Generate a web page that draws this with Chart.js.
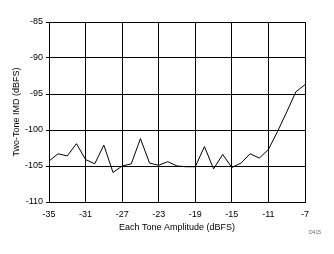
<!DOCTYPE html>
<html>
<head>
<meta charset="utf-8">
<script src="https://cdn.jsdelivr.net/npm/chart.js@4/dist/chart.umd.min.js"></script>
<style>
  html, body { margin: 0; padding: 0; background: #fff; }
  #wrap { width: 334px; height: 254px; }
</style>
</head>
<body>
<div id="wrap"><canvas id="imdChart" width="334" height="254"></canvas></div>
<script>
// tone amplitude (dBFS) and two-tone IMD (dBFS)
let amplitude = [-35, -34, -33, -32, -31, -30, -29, -28, -27, -26, -25, -24, -23, -22, -21,
  -20, -19, -18, -17, -16, -15, -14, -13, -12, -11, -10, -9, -8, -7];
let imd = [-104.3, -103.3, -103.6, -101.9, -104.1, -104.7, -102.1, -105.9, -105.0, -104.7,
  -101.2, -104.6, -104.9, -104.4, -105.0, -105.1, -105.1, -102.3, -105.4, -103.4,
  -105.2, -104.6, -103.3, -103.9, -102.7, -100.2, -97.5, -94.7, -93.7];
let xTicks = [-35, -31, -27, -23, -19, -15, -11, -7];
let yTicks = [-110, -105, -100, -95, -90, -85];

let points = amplitude.map(function (a, i) { return { x: a, y: imd[i] }; });

// small figure code in the corner
const cornerLabel = {
  id: "cornerLabel",
  afterDraw(chart) {
    let ctx = chart.ctx;
    ctx.save();
    ctx.fillStyle = "#666";
    ctx.font = "5px Arial";
    ctx.textAlign = "left";
    ctx.textBaseline = "middle";
    ctx.fillText("D415", 309, 233);
    ctx.restore();
  },
};

let font = { family: "Arial", size: 9 };

new Chart("imdChart", {
  type: "line",
  data: {
    datasets: [
      {
        data: points,
        borderColor: "#000",
        borderWidth: 1,
        pointRadius: 0,
        tension: 0,
        fill: false,
      },
    ],
  },
  options: {
    responsive: false,
    animation: false,
    layout: { padding: { top: 22, right: 29, left: 11, bottom: 21 } },
    plugins: { legend: { display: false }, tooltip: { enabled: false } },
    scales: {
      x: {
        type: "linear",
        min: -35,
        max: -7,
        afterBuildTicks: function (axis) {
          axis.ticks = xTicks.map(function (v) { return { value: v }; });
        },
        afterFit: function (axis) { axis.height = 31; },
        grid: { color: "#000", lineWidth: 1, drawTicks: false },
        border: { color: "#000", width: 1 },
        ticks: { color: "#000", font: font, padding: 7, maxRotation: 0 },
        title: {
          display: true,
          text: "Each Tone Amplitude (dBFS)",
          color: "#000",
          font: font,
          padding: { top: 1, bottom: 0 },
        },
      },
      y: {
        min: -110,
        max: -85,
        afterBuildTicks: function (axis) {
          axis.ticks = yTicks.map(function (v) { return { value: v }; });
        },
        afterFit: function (axis) { axis.width = 38; },
        grid: { color: "#000", lineWidth: 1, drawTicks: true, tickLength: 3 },
        border: { color: "#000", width: 1 },
        ticks: { color: "#000", font: font, padding: 3 },
        title: {
          display: true,
          text: "Two-Tone IMD (dBFS)",
          color: "#000",
          font: font,
          padding: { top: 0, bottom: 0 },
        },
      },
    },
  },
  plugins: [cornerLabel],
});
</script>
</body>
</html>
